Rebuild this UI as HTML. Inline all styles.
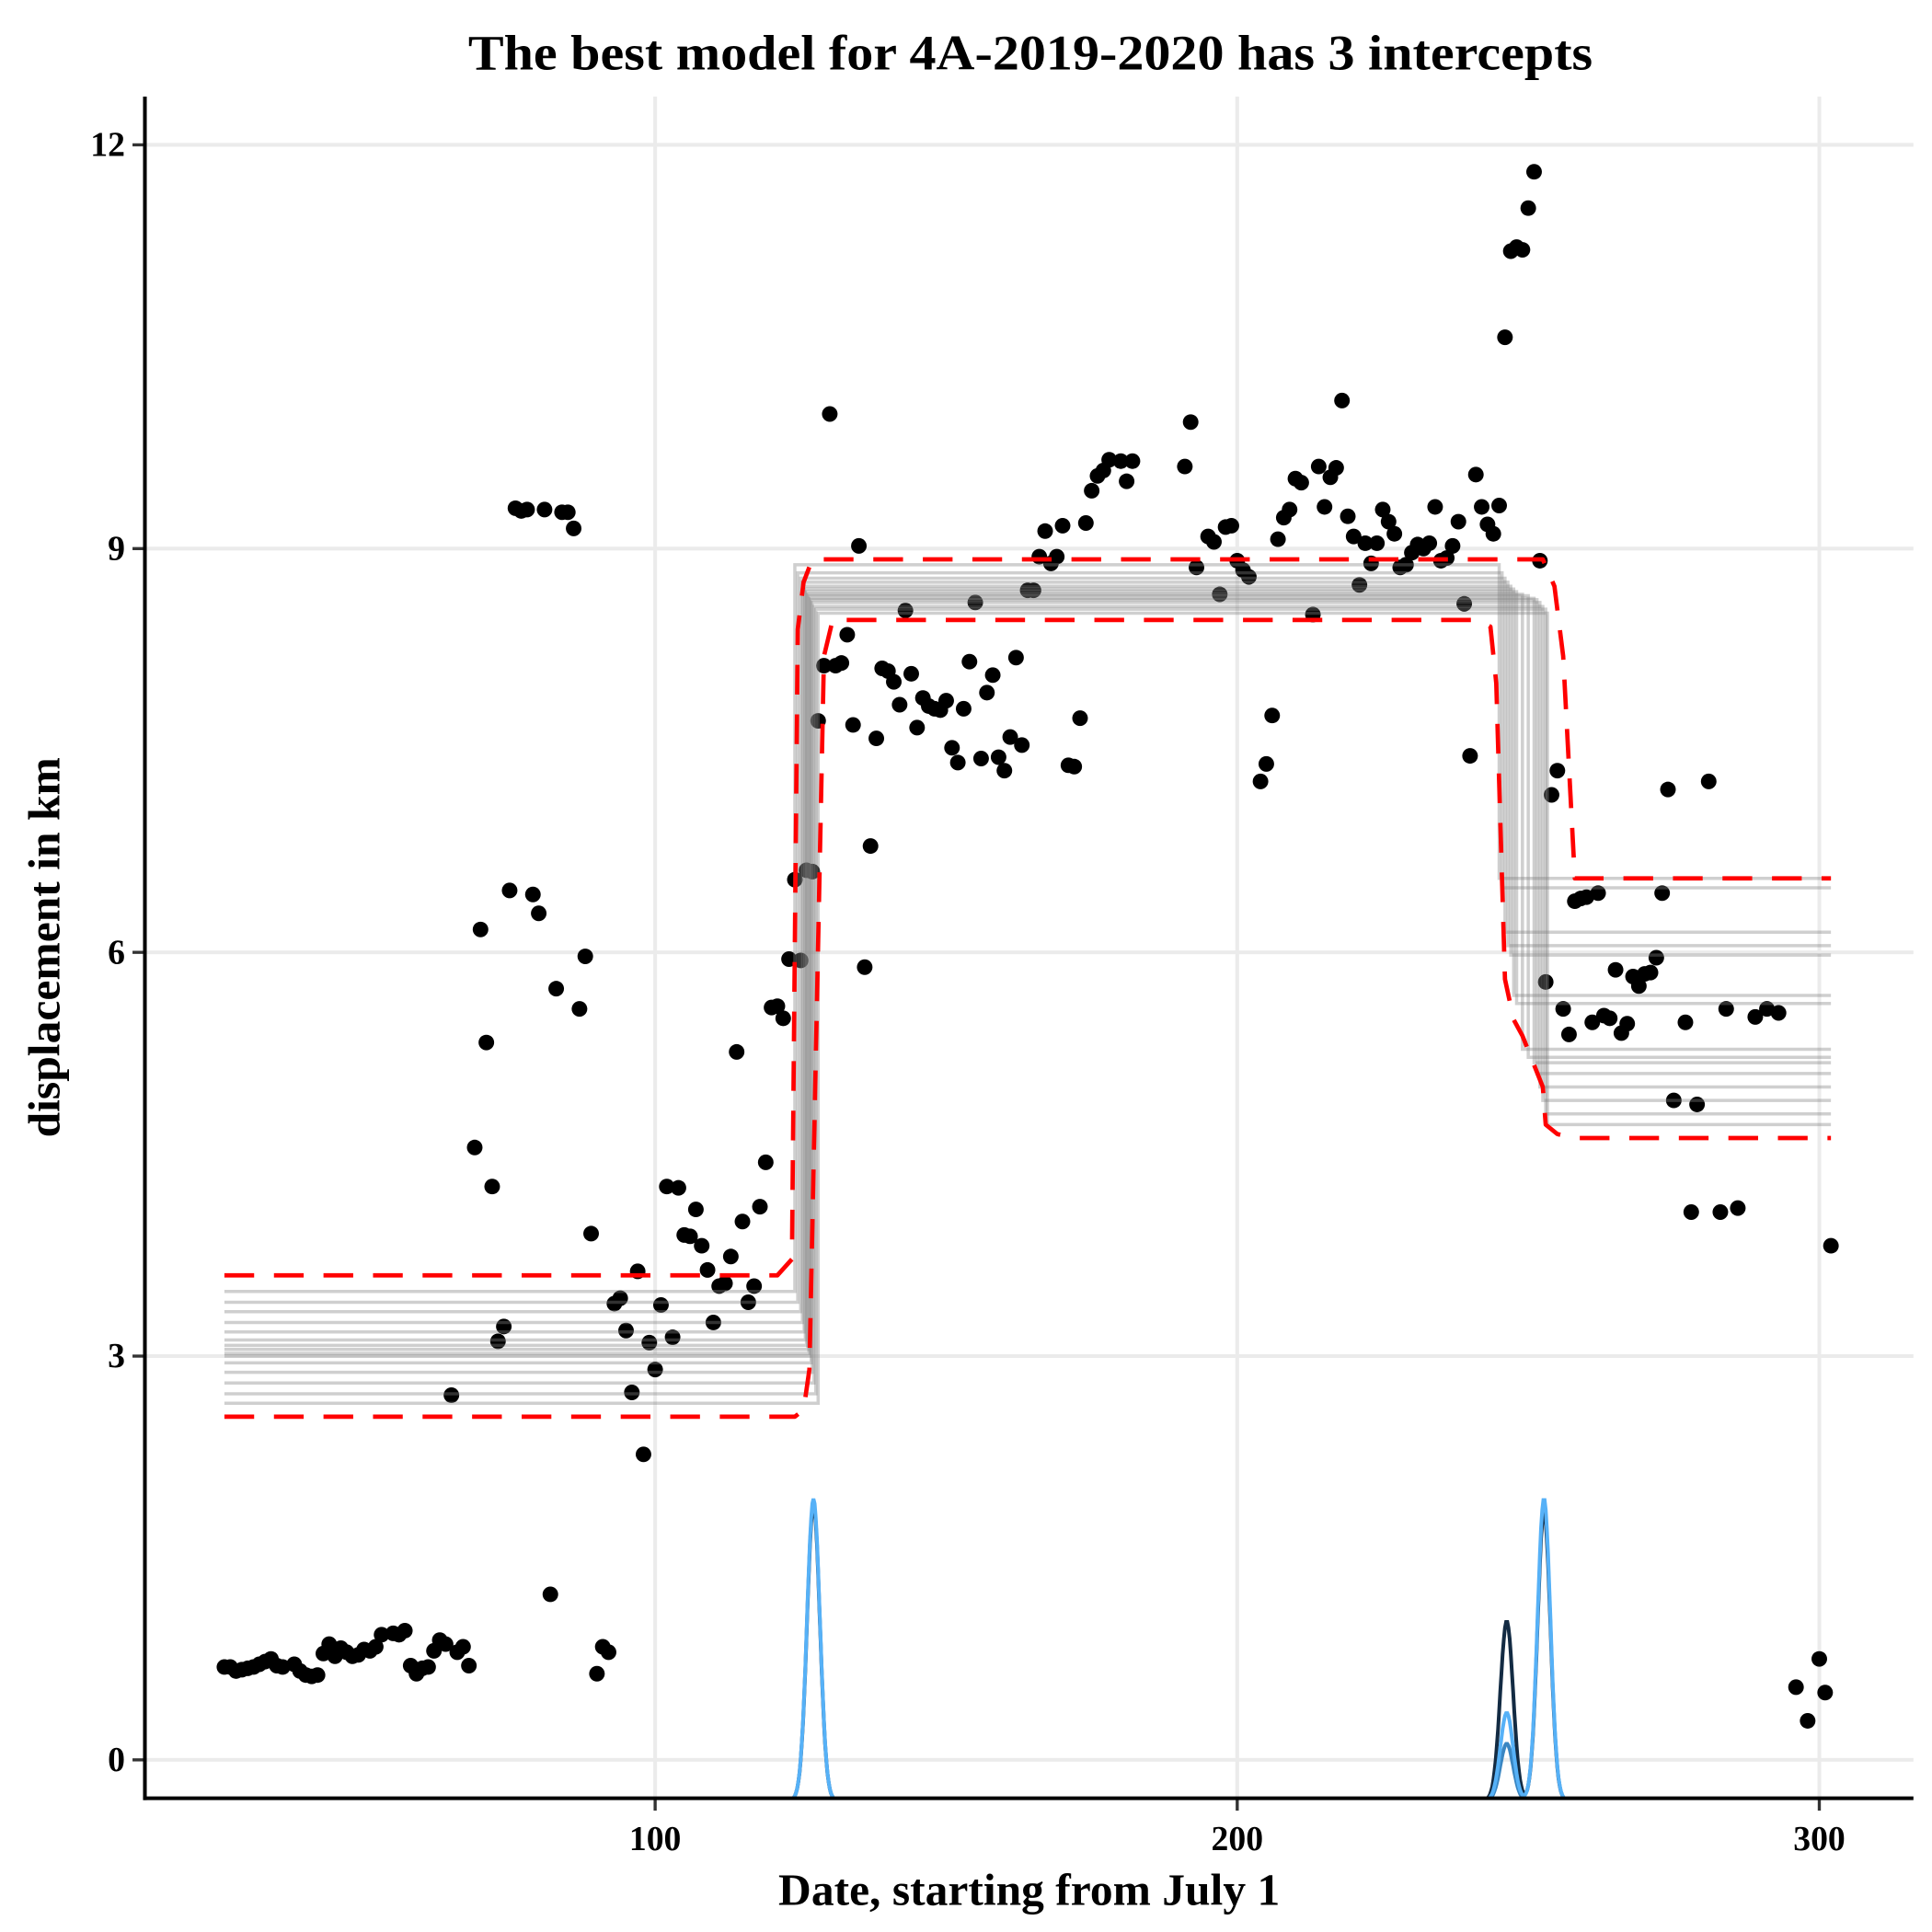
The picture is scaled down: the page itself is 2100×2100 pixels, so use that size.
<!DOCTYPE html>
<html><head><meta charset="utf-8"><style>
html,body{margin:0;padding:0;background:#fff;}
svg{display:block;}
text{font-family:"Liberation Serif",serif;font-weight:bold;}
</style></head><body>
<svg id="chart" width="2100" height="2100" viewBox="0 0 1560 1560" xmlns="http://www.w3.org/2000/svg">
<defs><clipPath id="plotclip"><rect x="117" y="78" width="1428" height="1374"/></clipPath></defs>
<rect x="0" y="0" width="1560" height="1560" fill="#fff"/>
<g id="grid"></g>
<g id="points"></g>
<g id="models" clip-path="url(#plotclip)"></g>
<g id="band" clip-path="url(#plotclip)"></g>
<g id="density" clip-path="url(#plotclip)"></g>
<g id="axes"></g>
<text x="832" y="56" font-size="40" text-anchor="middle" textLength="908" lengthAdjust="spacingAndGlyphs">The best model for 4A-2019-2020 has 3 intercepts</text>
<text x="831" y="1538" font-size="36" text-anchor="middle" textLength="405" lengthAdjust="spacingAndGlyphs">Date, starting from July 1</text>
<text transform="translate(48,765) rotate(-90)" font-size="36" text-anchor="middle" textLength="307" lengthAdjust="spacingAndGlyphs">displacement in km</text>
</svg>
<script>
const days=[26,27,28,29,30,31,32,33,34,35,
36,38,39,40,41,42,43,44,45,46,
47,48,49,50,51,52,53,55,56,57,
58,59,60,61,62,63,64,65,66,67,
68,69,70,71,72,73,74,75,76,77,
78,79,80,81,82,83,84,85,86,87,
88,89,90,91,92,93,94,95,96,97,
98,99,100,101,102,103,104,105,106,107,
108,109,110,111,112,113,114,115,116,117,
118,119,120,121,122,123,124,125,126,127,
128,129,130,131,132,133,134,135,136,137,
138,139,140,141,142,143,144,145,146,147,
148,149,150,151,152,153,154,155,156,157,
158,159,160,161,162,163,164,165,166,167,
168,169,170,171,172,173,174,175,176,177,
178,180,181,182,191,192,193,195,196,197,
198,199,200,201,202,204,205,206,207,208,
209,210,211,213,214,215,216,217,218,219,
220,221,222,223,224,225,226,227,228,229,
230,231,232,233,234,235,236,237,238,239,
240,241,242,243,244,245,246,247,248,249,
250,251,252,253,254,255,256,257,258,259,
260,261,262,263,264,265,266,267,268,269,
270,271,272,273,274,275,277,278,279,281,
283,284,286,289,291,293,296,298,300,301,
302];
const km=[0.69,0.69,0.66,0.67,0.68,0.69,0.71,0.73,0.75,0.70,
0.69,0.71,0.66,0.63,0.62,0.63,0.79,0.86,0.77,0.83,
0.80,0.77,0.78,0.82,0.81,0.84,0.93,0.94,0.93,0.96,
0.70,0.64,0.68,0.69,0.81,0.89,0.86,2.71,0.80,0.84,
0.70,4.55,6.17,5.33,4.26,3.11,3.22,6.46,9.30,9.28,
9.29,6.43,6.29,9.29,1.23,5.73,9.27,9.27,9.15,5.58,
5.97,3.91,0.64,0.84,0.80,3.39,3.43,3.19,2.73,3.63,
2.27,3.10,2.90,3.38,4.26,3.14,4.25,3.90,3.89,4.09,
3.82,3.64,3.25,3.52,3.54,3.74,5.26,4.00,3.40,3.52,
4.11,4.44,5.59,5.60,5.51,5.95,6.54,5.94,6.61,6.60,
7.72,8.13,10.00,8.13,8.15,8.36,7.69,9.02,5.89,6.79,
7.59,8.11,8.09,8.01,7.84,8.54,8.07,7.67,7.89,7.83,
7.81,7.80,7.87,7.52,7.41,7.81,8.16,8.60,7.44,7.93,
8.06,7.45,7.35,7.60,8.19,7.54,8.69,8.69,8.94,9.13,
8.89,8.94,9.17,7.39,7.38,7.74,9.19,9.43,9.54,9.58,
9.66,9.65,9.50,9.65,9.61,9.94,8.86,9.09,9.05,8.66,
9.16,9.17,8.91,8.84,8.79,7.27,7.40,7.76,9.07,9.23,
9.29,9.52,9.49,8.51,9.61,9.31,9.53,9.60,10.10,9.24,
9.09,8.73,9.04,8.89,9.04,9.29,9.20,9.11,8.86,8.88,
8.97,9.03,9.00,9.04,9.31,8.91,8.93,9.02,9.20,8.59,
7.46,9.55,9.31,9.18,9.11,9.32,10.57,11.21,11.24,11.22,
11.53,11.80,8.91,5.78,7.17,7.35,5.58,5.39,6.38,6.40,
6.41,5.48,6.44,5.53,5.51,5.87,5.40,5.47,5.82,5.75,
5.84,5.85,5.96,6.44,7.21,4.90,5.48,4.07,4.87,7.27,
4.07,5.58,4.10,5.52,5.58,5.55,0.54,0.29,0.75,0.50,
3.82];
// model sample lines: first changepoint, second changepoint, three levels
const cp1=[124,124.5,125,125.3,125.6,125.8,126,126.2,126.4,126.6,126.8,127,127.3,127.6,128];
const cp2=[245,245.5,246,246.5,247,247.5,248,249,250,251,251.5,252,252.5,253,253.3];
const lvl1=[3.48,3.40,3.33,3.25,3.18,3.12,3.08,3.05,3.02,3.00,2.95,2.88,2.80,2.72,2.65];
const lvl2=[8.88,8.82,8.78,8.75,8.72,8.70,8.68,8.66,8.65,8.63,8.62,8.60,8.57,8.55,8.52];
const lvl3=[6.55,6.48,6.15,6.05,5.98,5.68,5.62,5.28,5.22,5.18,5.10,5.00,4.90,4.80,4.72];
// credible band (red dashed)
const upDays=[26,117,121,123.5,124.5,125.5,127,252.5,254.5,256,258,302];
const upKm=[3.6,3.6,3.6,3.72,8.4,8.75,8.92,8.92,8.72,8.2,6.55,6.55];
const loDays=[26,124,125.5,126.5,127.5,129,130.5,241.5,243.5,244.5,246,247.5,249,252.5,253,255,258,302];
const loKm=[2.55,2.55,2.6,2.9,5.0,8.2,8.47,8.47,8.42,8.0,5.8,5.5,5.38,5.0,4.72,4.65,4.62,4.62];
// changepoint densities
const peakDays=[127.2,246.3,252.7];
const peakDark=[1.90,1.03,1.85];
const peakBlue=[1.94,0.35,1.94];
const peakBlue2=[0,0.12,0];

const X=d=>529+(d-100)*4.7, Y=v=>1421-v*108.67;
const NS='http://www.w3.org/2000/svg';
function mk(tag,attrs,parent){const e=document.createElementNS(NS,tag);for(const k in attrs)e.setAttribute(k,attrs[k]);parent.appendChild(e);return e;}
const grid=document.getElementById('grid'),axes=document.getElementById('axes');
const xticks=[100,200,300],yticks=[0,3,6,9,12];
xticks.forEach(t=>{const l=mk('line',{x1:X(t),x2:X(t),y1:78,y2:1452,stroke:'#ebebeb','stroke-width':3},grid);


const tk=mk('line',{x1:X(t),x2:X(t),y1:1452,y2:1462,stroke:'#333','stroke-width':2.5},axes);


const tx=mk('text',{x:X(t),y:1494,'font-size':28,'text-anchor':'middle'},axes);tx.textContent=t;

});
yticks.forEach(t=>{const l=mk('line',{x1:117,x2:1545,y1:Y(t),y2:Y(t),stroke:'#ebebeb','stroke-width':3},grid);


const tk=mk('line',{x1:107,x2:117,y1:Y(t),y2:Y(t),stroke:'#333','stroke-width':2.5},axes);


const tx=mk('text',{x:101,y:Y(t)+9,'font-size':28,'text-anchor':'end'},axes);tx.textContent=t;

});
const ax1=mk('line',{x1:117,x2:117,y1:78,y2:1453.5,stroke:'#000','stroke-width':3},axes);


const ax2=mk('line',{x1:115.5,x2:1545,y1:1452,y2:1452,stroke:'#000','stroke-width':3},axes);



const pts=document.getElementById('points');
days.forEach((d,i)=>{const c=mk('circle',{cx:X(d),cy:Y(km[i]),r:6.3,fill:'#000'},pts);

});

const models=document.getElementById('models');
cp1.forEach((c1,i)=>{const p=`M${X(26)},${Y(lvl1[i])}H${X(c1)}V${Y(lvl2[i])}H${X(cp2[i])}V${Y(lvl3[i])}H${X(302)}`;
const e=mk('path',{d:p,fill:'none',stroke:'rgba(130,130,130,0.38)','stroke-width':2.6},models);

});

const band=document.getElementById('band');
[[upDays,upKm,'upper-band'],[loDays,loKm,'lower-band']].forEach(([ds,vs,nm])=>{
const p='M'+ds.map((d,i)=>X(d)+','+Y(vs[i])).join('L');
const e=mk('path',{d:p,fill:'none',stroke:'#ff0000','stroke-width':3.5,'stroke-dasharray':'24,16','stroke-linejoin':'round'},band);

});

const dens=document.getElementById('density');
function densPath(h){let p='';for(let d=115;d<=265;d+=0.2){let v=-0.3;peakDays.forEach((c,k)=>{v+=(h[k]+0.3)*Math.exp(-Math.pow((d-c)/1.1,2)/2)*(h[k]>0?1:0);});p+=(p?'L':'M')+X(d).toFixed(1)+','+Y(v).toFixed(1);}return p;}
const dk=mk('path',{d:densPath(peakDark),fill:'none',stroke:'#132b43','stroke-width':3},dens);


const b2=mk('path',{d:densPath(peakBlue2),fill:'none',stroke:'#3a86c2','stroke-width':3},dens);


const bl=mk('path',{d:densPath(peakBlue),fill:'none',stroke:'#56b1f7','stroke-width':3},dens);


</script>
</body></html>
